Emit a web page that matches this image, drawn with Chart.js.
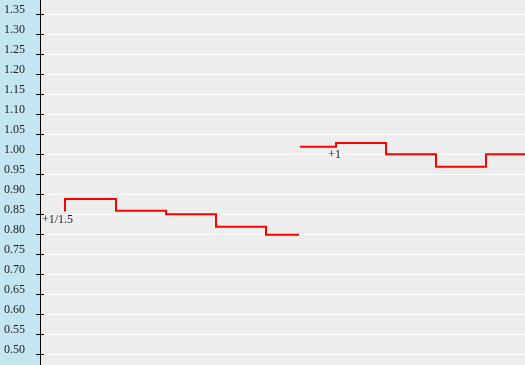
<!DOCTYPE html>
<html>
<head>
<meta charset="utf-8">
<script src="https://cdn.jsdelivr.net/npm/chart.js@4"></script>
<style>
  html, body { margin: 0; padding: 0; background: #ededed; }
  #wrap { width: 525px; height: 365px; }
</style>
</head>
<body>
<div id="wrap"><canvas id="oddsChart"></canvas></div>
<script>
// Tick labels on the y axis
const tickValues = [0.50, 0.55, 0.60, 0.65, 0.70, 0.75, 0.80, 0.85, 0.90, 0.95,
                    1.00, 1.05, 1.10, 1.15, 1.20, 1.25, 1.30, 1.35];

// First run of odds (x in time units, y in price)
const run1X = [2.5, 2.5, 7.6, 12.6, 17.6, 22.6, 25.9];
const run1Y = [0.857, 0.888, 0.859, 0.850, 0.819, 0.799, 0.799];

// Second run of odds
const run2X = [26.0, 29.6, 34.6, 39.6, 44.6, 50.0];
const run2Y = [1.019, 1.028, 1.000, 0.969, 1.000, 1.000];

// Text notes placed on the line
const noteText = ['+1/1.5', '+1'];
const noteX = [3.3, 30.1];
const noteY = [0.857, 1.019];

const toPoints = (xs, ys) => xs.map((x, i) => ({ x: x, y: ys[i] }));

// Fondo azul del eje, marcas y notas
const decorPlugin = {
    id: 'decor',
    beforeDraw(chart) {
        const ctx = chart.ctx;
        const area = chart.chartArea;
        ctx.save();
        ctx.fillStyle = '#c3e6f2';
        ctx.fillRect(0, 0, area.left, chart.height);
        ctx.fillStyle = '#ededed';
        ctx.fillRect(area.left, 0, chart.width - area.left, chart.height);
        ctx.restore();
    },
    afterDraw(chart) {
        const ctx = chart.ctx;
        const yScale = chart.scales.y;
        const xScale = chart.scales.x;
        ctx.save();
        // tick marks crossing the axis line
        ctx.strokeStyle = '#000';
        ctx.lineWidth = 1;
        ctx.beginPath();
        tickValues.forEach(v => {
            const py = Math.round(yScale.getPixelForValue(v)) + 0.5;
            ctx.moveTo(36, py);
            ctx.lineTo(44, py);
        });
        ctx.stroke();
        // notes
        ctx.fillStyle = '#222';
        ctx.font = '12px "Liberation Serif", "Times New Roman", serif';
        ctx.textAlign = 'right';
        ctx.textBaseline = 'top';
        noteText.forEach((t, i) => {
            ctx.fillText(t, xScale.getPixelForValue(noteX[i]), yScale.getPixelForValue(noteY[i]) + 2);
        });
        ctx.restore();
    }
};

document.addEventListener('DOMContentLoaded', function () {
    const lineStyle = {
        borderColor: '#ff0000',
        borderWidth: 2,
        pointRadius: 0,
        fill: false,
        stepped: 'before',
        tension: 0
    };

    const config = {
        type: 'line',
        data: {
            datasets: [
                Object.assign({ label: 'run 1', data: toPoints(run1X, run1Y) }, lineStyle),
                Object.assign({ label: 'run 2', data: toPoints(run2X, run2Y) }, lineStyle)
            ]
        },
        options: {
            responsive: true,
            maintainAspectRatio: false,
            animation: false,
            layout: { padding: 0 },
            plugins: {
                legend: { display: false },
                tooltip: { enabled: false }
            },
            scales: {
                x: {
                    type: 'linear',
                    display: false,
                    min: 0,
                    max: 48.5
                },
                y: {
                    type: 'linear',
                    min: 0.47325,
                    max: 1.38575,
                    afterBuildTicks: (scale) => {
                        scale.ticks = tickValues.map(v => ({ value: v }));
                    },
                    afterFit: (scale) => {
                        scale.width = 40;
                        scale.paddingTop = 0;
                        scale.paddingBottom = 0;
                    },
                    border: { display: true, color: '#000', width: 1 },
                    grid: {
                        color: '#ffffff',
                        lineWidth: 1,
                        drawTicks: false
                    },
                    ticks: {
                        padding: 15,
                        labelOffset: -4,
                        color: '#222',
                        font: { family: '"Liberation Serif", "Times New Roman", serif', size: 12 },
                        callback: (v) => Number(v).toFixed(2)
                    }
                }
            }
        },
        plugins: [decorPlugin]
    };

    new Chart(document.getElementById('oddsChart').getContext('2d'), config);
});
</script>
</body>
</html>
